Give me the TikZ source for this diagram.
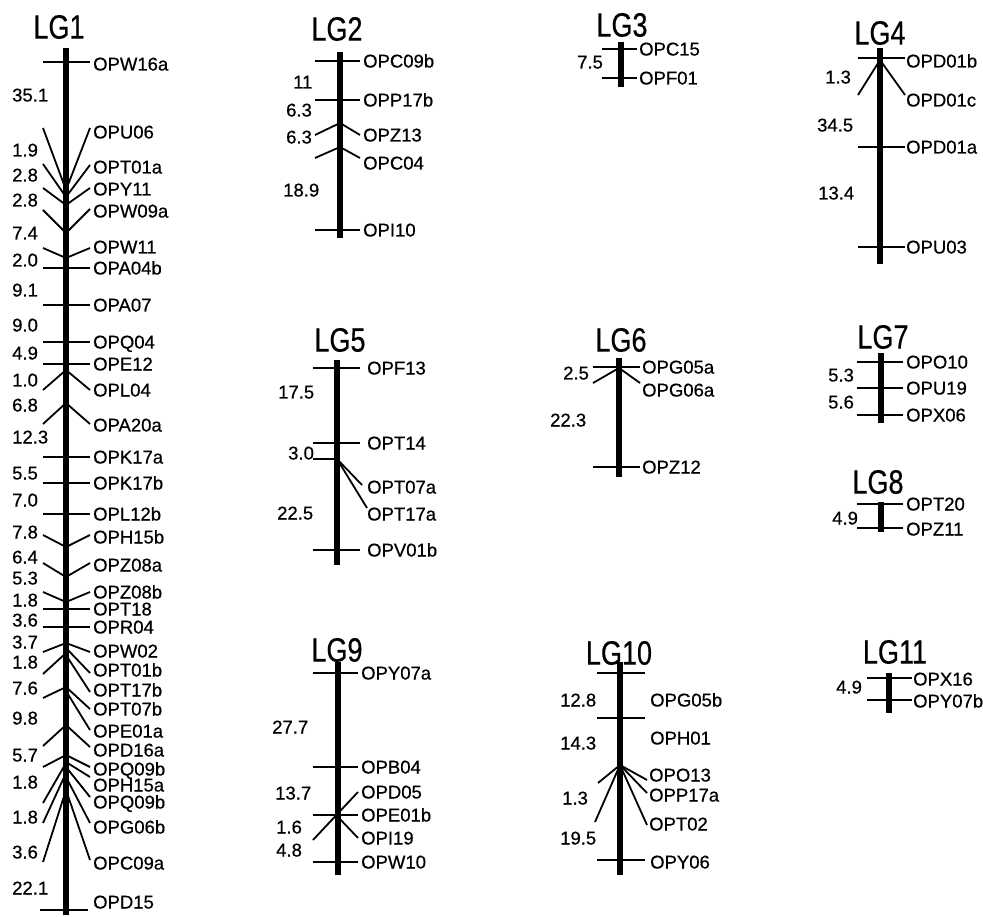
\documentclass[tikz,border=0pt]{standalone}
\usepackage{graphicx}
\usepackage{fontspec}
\setmainfont[FakeBold=0.6]{Liberation Sans}
\newcount\dc
\begin{document}
\begin{tikzpicture}[x=1pt,y=-1pt,
  bar/.style={line width=6.5pt},
  tk/.style={line width=1.8pt},
  lbl/.style={anchor=west,inner sep=0pt,text height=13pt,text depth=0pt,font=\fontsize{18.5}{20}\selectfont},
  dst/.style={lbl},
  ttl/.style={inner sep=0pt,font=\fontsize{27}{30}\selectfont}]
\useasboundingbox (0,0) rectangle (983,917);
\newcommand\hm[4]{\draw[tk] (\xl,#1) -- (\xr,#1); \node[lbl] (#3) at (\xt,#4) {#2};}
\newcommand\vm[6]{\draw[tk] (\xl,#1) -- (\bx,#2) -- (\xr,#3); \node[lbl] (#5) at (\xt,#6) {#4};}
\newcommand\rl[5]{\draw[tk] (\bx,#1) -- (\xr,#2); \node[lbl] (#4) at (\xt,#5) {#3};}
\newcommand\lft[2]{\draw[tk] (\xl,#1) -- (\bx,#2);}
\newcommand\ds[3]{\global\advance\dc by 1 \node[dst] (dist\the\dc) at (#1,#2) {#3};}
\newcommand\ttlnode[3]{\node[ttl] (#1) at (#2) {\scalebox{1}[1.25]{#3}};}
\newcommand\chr[3]{\draw[bar] (\bx,#1) coordinate (#3top) -- (\bx,#2) coordinate (#3bot);}

% ---------------- LG1 ----------------
\def\bx{66}\def\xl{43}\def\xr{90}\def\xt{93}
\ttlnode{t1}{59,27}{LG1}
\hm{62}{OPW16a}{opw16a}{64}
\vm{128}{190}{128}{OPU06}{opu06}{132}
\vm{164}{197}{165}{OPT01a}{opt01a}{167}
\vm{188}{205}{188}{OPY11}{opy11}{189}
\vm{210}{233}{209}{OPW09a}{opw09a}{211}
\vm{248}{258}{248}{OPW11}{opw11}{247}
\hm{268}{OPA04b}{opa04b}{268}
\hm{305}{OPA07}{opa07}{305}
\hm{342}{OPQ04}{opq04}{342}
\hm{364}{OPE12}{ope12}{364}
\vm{390}{370}{390}{OPL04}{opl04}{390}
\vm{424}{403}{424}{OPA20a}{opa20a}{425}
\hm{457}{OPK17a}{opk17a}{457}
\hm{483}{OPK17b}{opk17b}{483}
\hm{514}{OPL12b}{opl12b}{514}
\vm{535}{547}{535}{OPH15b}{oph15b}{537}
\vm{563}{577}{563}{OPZ08a}{opz08a}{565}
\vm{592}{602}{592}{OPZ08b}{opz08b}{592}
\hm{609}{OPT18}{opt18}{609}
\hm{627}{OPR04}{opr04}{627}
\lft{652}{643}\lft{674}{653}\lft{698}{687}\lft{746}{725}
\lft{767}{755}\lft{803}{763}\lft{823}{773}\lft{862}{790}
\rl{643}{652}{OPW02}{opw02}{651}
\rl{648}{673}{OPT01b}{opt01b}{670}
\rl{655}{692}{OPT17b}{opt17b}{690}
\rl{687}{709}{OPT07b}{opt07b}{709}
\rl{691}{730}{OPE01a}{ope01a}{731}
\rl{725}{747}{OPD16a}{opd16a}{750}
\rl{755}{767}{OPQ09b}{opq09bi}{769}
\rl{762}{777}{OPH15a}{oph15a}{785}
\rl{767}{797}{OPQ09b}{opq09bii}{802}
\rl{777}{823}{OPG06b}{opg06b}{827}
\rl{790}{860}{OPC09a}{opc09a}{863}
\draw[tk] (40,910) -- (88,910); \node[lbl] (opd15) at (93,902) {OPD15};
\chr{48}{915}{lgi}
\foreach \y/\t in {95/35.1,150/1.9,175/2.8,200/2.8,233/7.4,260/2.0,290/9.1,325/9.0,353/4.9,380/1.0,405/6.8,437/12.3,473/5.5,500/7.0,532/7.8,557/6.4,578/5.3,600/1.8,620/3.6,642/3.7,662/1.8,688/7.6,718/9.8,755/5.7,782/1.8,817/1.8,852/3.6,888/22.1}{\ds{12}{\y}{\t}}

% ---------------- LG2 ----------------
\def\bx{340}\def\xl{315}\def\xr{360}\def\xt{363}
\ttlnode{t2}{337,29}{LG2}
\hm{61}{OPC09b}{opc09b}{61}
\hm{100}{OPP17b}{opp17b}{100}
\vm{135}{123}{135}{OPZ13}{opz13}{135}
\vm{158}{147}{158}{OPC04}{opc04}{163}
\hm{230}{OPI10}{opi10}{230}
\chr{52}{238}{lgii}
\ds{293}{82}{11}\ds{286}{110}{6.3}\ds{286}{137}{6.3}\ds{283}{190}{18.9}

% ---------------- LG3 ----------------
\def\bx{621}\def\xl{602}\def\xr{637}\def\xt{639}
\ttlnode{t3}{622,25}{LG3}
\hm{49}{OPC15}{opc15}{49}
\hm{78}{OPF01}{opf01}{78}
\chr{42}{87}{lgiii}
\ds{577}{62}{7.5}

% ---------------- LG4 ----------------
\def\bx{880}\def\xl{858}\def\xr{905}\def\xt{906}
\ttlnode{t4}{880,33}{LG4}
\hm{58}{OPD01b}{opd01b}{61}
\vm{95}{60}{95}{OPD01c}{opd01c}{100}
\hm{147}{OPD01a}{opd01a}{147}
\hm{247}{OPU03}{opu03}{247}
\chr{48}{264}{lgiv}
\ds{825}{77}{1.3}\ds{817}{125}{34.5}\ds{818}{193}{13.4}

% ---------------- LG5 ----------------
\def\bx{337}\def\xl{313}\def\xr{360}\def\xt{367}
\ttlnode{t5}{340,340}{LG5}
\hm{368}{OPF13}{opf13}{368}
\hm{443}{OPT14}{opt14}{443}
\draw[tk] (\xl,459) -- (\bx,459);
\draw[tk] (\bx,459) -- (362,485); \node[lbl] (opt07a) at (\xt,487) {OPT07a};
\draw[tk] (\bx,459) -- (367,508); \node[lbl] (opt17a) at (\xt,514) {OPT17a};
\hm{550}{OPV01b}{opv01b}{550}
\chr{360}{565}{lgv}
\ds{278}{392}{17.5}\ds{288}{453}{3.0}\ds{277}{513}{22.5}

% ---------------- LG6 ----------------
\def\bx{619}\def\xl{593}\def\xr{640}\def\xt{642}
\ttlnode{t6}{621,340}{LG6}
\hm{367}{OPG05a}{opg05a}{367}
\vm{383}{368}{383}{OPG06a}{opg06a}{390}
\hm{467}{OPZ12}{opz12}{467}
\chr{358}{477}{lgvi}
\ds{563}{373}{2.5}\ds{550}{420}{22.3}

% ---------------- LG7 ----------------
\def\bx{881}\def\xl{857}\def\xr{903}\def\xt{906}
\ttlnode{t7}{883,337}{LG7}
\hm{362}{OPO10}{opo10}{362}
\hm{388}{OPU19}{opu19}{388}
\hm{415}{OPX06}{opx06}{415}
\chr{353}{423}{lgvii}
\ds{828}{375}{5.3}\ds{828}{402}{5.6}

% ---------------- LG8 ----------------
\def\bx{881}\def\xl{857}\def\xr{903}\def\xt{906}
\ttlnode{t8}{878,482}{LG8}
\hm{504}{OPT20}{opt20}{504}
\hm{528}{OPZ11}{opz11}{529}
\chr{502}{532}{lgviii}
\ds{832}{518}{4.9}

% ---------------- LG9 ----------------
\def\bx{338}\def\xl{313}\def\xr{358}\def\xt{361}
\ttlnode{t9}{337,650}{LG9}
\hm{673}{OPY07a}{opy07a}{673}
\hm{767}{OPB04}{opb04}{767}
\draw[tk] (\xl,840) -- (\xr,792); \node[lbl] (opd05) at (\xt,792) {OPD05};
\hm{815}{OPE01b}{ope01b}{815}
\rl{817}{838}{OPI19}{opi19}{838}
\hm{862}{OPW10}{opw10}{862}
\chr{662}{875}{lgix}
\ds{272}{727}{27.7}\ds{275}{793}{13.7}\ds{276}{827}{1.6}\ds{276}{850}{4.8}

% ---------------- LG10 ----------------
\def\bx{620}\def\xl{597}\def\xr{645}\def\xt{650}
\ttlnode{t10}{619,653}{LG10}
\draw[tk] (\xl,673) -- (\xr,673); \node[lbl] (opg05b) at (\xt,700) {OPG05b};
\draw[tk] (\xl,718) -- (\xr,718); \node[lbl] (oph01) at (\xt,738) {OPH01};
\draw[tk] (598,783) -- (\bx,765) -- (647,780);
\draw[tk] (595,822) -- (\bx,765) -- (647,793);
\draw[tk] (\bx,765) -- (647,825);
\node[lbl] (opo13) at (649,775) {OPO13};
\node[lbl] (opp17a) at (649,795) {OPP17a};
\node[lbl] (opt02) at (649,824) {OPT02};
\hm{860}{OPY06}{opy06}{862}
\chr{662}{875}{lgx}
\ds{560}{700}{12.8}\ds{560}{743}{14.3}\ds{562}{798}{1.3}\ds{560}{838}{19.5}

% ---------------- LG11 ----------------
\def\bx{889}\def\xl{867}\def\xr{912}\def\xt{913}
\ttlnode{t11}{895,652}{LG11}
\hm{678}{OPX16}{opx16}{679}
\hm{700}{OPY07b}{opy07b}{701}
\chr{673}{713}{lgxi}
\ds{836}{687}{4.9}
\end{tikzpicture}
\end{document}
